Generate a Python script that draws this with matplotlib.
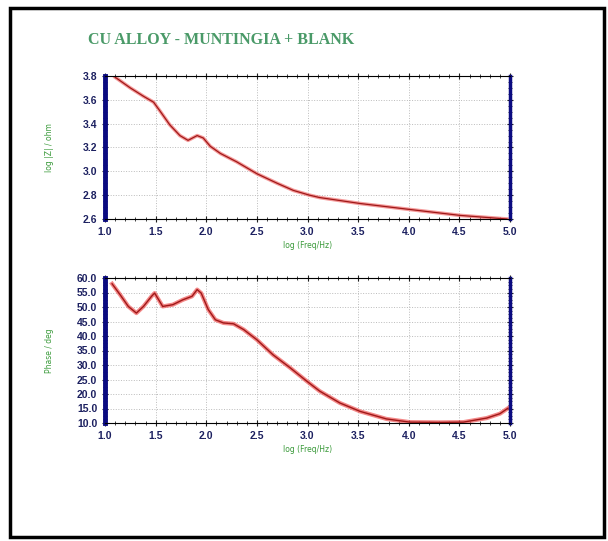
import matplotlib.pyplot as plt
from matplotlib.patches import Rectangle
from matplotlib.ticker import MultipleLocator, FormatStrFormatter

title = "CU ALLOY - MUNTINGIA + BLANK"

# log(freq/Hz) vs log |Z|
freq_z = [1.10, 1.25, 1.38, 1.48, 1.54, 1.64, 1.74, 1.82, 1.91, 1.97, 2.04, 2.14,
          2.30, 2.50, 2.70, 2.86, 3.02, 3.12, 3.52, 4.01, 4.51, 4.97]
log_z = [3.79, 3.70, 3.63, 3.58, 3.51, 3.39, 3.30, 3.26, 3.30, 3.28, 3.21, 3.15,
         3.08, 2.98, 2.90, 2.84, 2.80, 2.78, 2.73, 2.68, 2.63, 2.60]

# log(freq/Hz) vs phase (deg)
freq_p = [1.07, 1.15, 1.23, 1.31, 1.38, 1.46, 1.49, 1.57, 1.67, 1.77, 1.86, 1.91,
          1.95, 2.02, 2.09, 2.17, 2.27, 2.37, 2.50, 2.66, 2.83, 2.99, 3.12, 3.32,
          3.52, 3.78, 4.01, 4.31, 4.54, 4.77, 4.90, 4.98]
phase = [58.0, 54.2, 50.2, 47.9, 50.2, 53.7, 54.8, 50.2, 50.8, 52.5, 53.7, 56.0,
         54.8, 49.1, 45.6, 44.5, 44.2, 42.2, 38.7, 33.5, 29.0, 24.5, 21.0, 16.9,
         14.0, 11.4, 10.3, 10.2, 10.3, 11.7, 13.2, 15.1]

fig = plt.figure(figsize=(6.08, 5.41), dpi=100)
fig.patches.append(Rectangle((10 / 608, 1 - 537 / 541), 594 / 608, 529 / 541,
                             transform=fig.transFigure, fill=False,
                             edgecolor="black", linewidth=2.5))

fig.text(88 / 608, 1 - 40 / 541, title, fontsize=11.5, fontweight="bold",
         family="Liberation Serif", color="#4a9a68", va="center", ha="left")

tick_font = ["Liberation Sans Narrow", "Liberation Sans", "DejaVu Sans"]


def style_axes(ax, ylab, ymin, ymax, ystep, fmt):
    ax.set_xlim(1.0, 5.0)
    ax.set_ylim(ymin, ymax)
    ax.xaxis.set_major_locator(MultipleLocator(0.5))
    ax.xaxis.set_minor_locator(MultipleLocator(0.1))
    ax.yaxis.set_major_locator(MultipleLocator(ystep))
    ax.yaxis.set_minor_locator(MultipleLocator(ystep / 4))
    ax.xaxis.set_major_formatter(FormatStrFormatter("%.1f"))
    ax.yaxis.set_major_formatter(FormatStrFormatter(fmt))
    ax.tick_params(axis="both", which="both", direction="inout", top=True,
                   right=True, labelsize=7.5, labelcolor="#1c2060", colors="#222222")
    ax.tick_params(which="major", length=4, width=0.8)
    ax.tick_params(which="minor", length=2.5, width=0.6)
    for lab in ax.get_xticklabels() + ax.get_yticklabels():
        lab.set_family(tick_font)
        lab.set_fontweight("bold")
    ax.grid(True, which="major", ls=":", lw=0.7, color="#bbbbbb")
    ax.spines["left"].set_color("#0a0a80")
    ax.spines["left"].set_linewidth(3.5)
    ax.spines["right"].set_color("#0a0a80")
    ax.spines["right"].set_linewidth(2.5)
    ax.spines["top"].set_linewidth(0.8)
    ax.spines["bottom"].set_linewidth(0.8)
    ax.set_xlabel("log (Freq/Hz)", fontsize=5.5, color="#3a9a3a", labelpad=3)
    ax.set_ylabel(ylab, fontsize=5.5, color="#3a9a3a")
    ax.yaxis.set_label_coords(-0.125, 0.5)


ax1 = fig.add_axes([105 / 608, 1 - 219 / 541, 405 / 608, 143 / 541])
ax1.plot(freq_z, log_z, color="#f07070", lw=2.6, alpha=0.7)
ax1.plot(freq_z, log_z, color="#a01818", lw=0.9)
style_axes(ax1, "log |Z| / ohm", 2.6, 3.8, 0.2, "%.1f")

ax2 = fig.add_axes([105 / 608, 1 - 423 / 541, 405 / 608, 145 / 541])
ax2.plot(freq_p, phase, color="#f06060", lw=3.0, alpha=0.75)
ax2.plot(freq_p, phase, color="#a01818", lw=1.0)
style_axes(ax2, "Phase / deg", 10.0, 60.0, 5.0, "%.1f")

fig.savefig("out.png", dpi=100)
